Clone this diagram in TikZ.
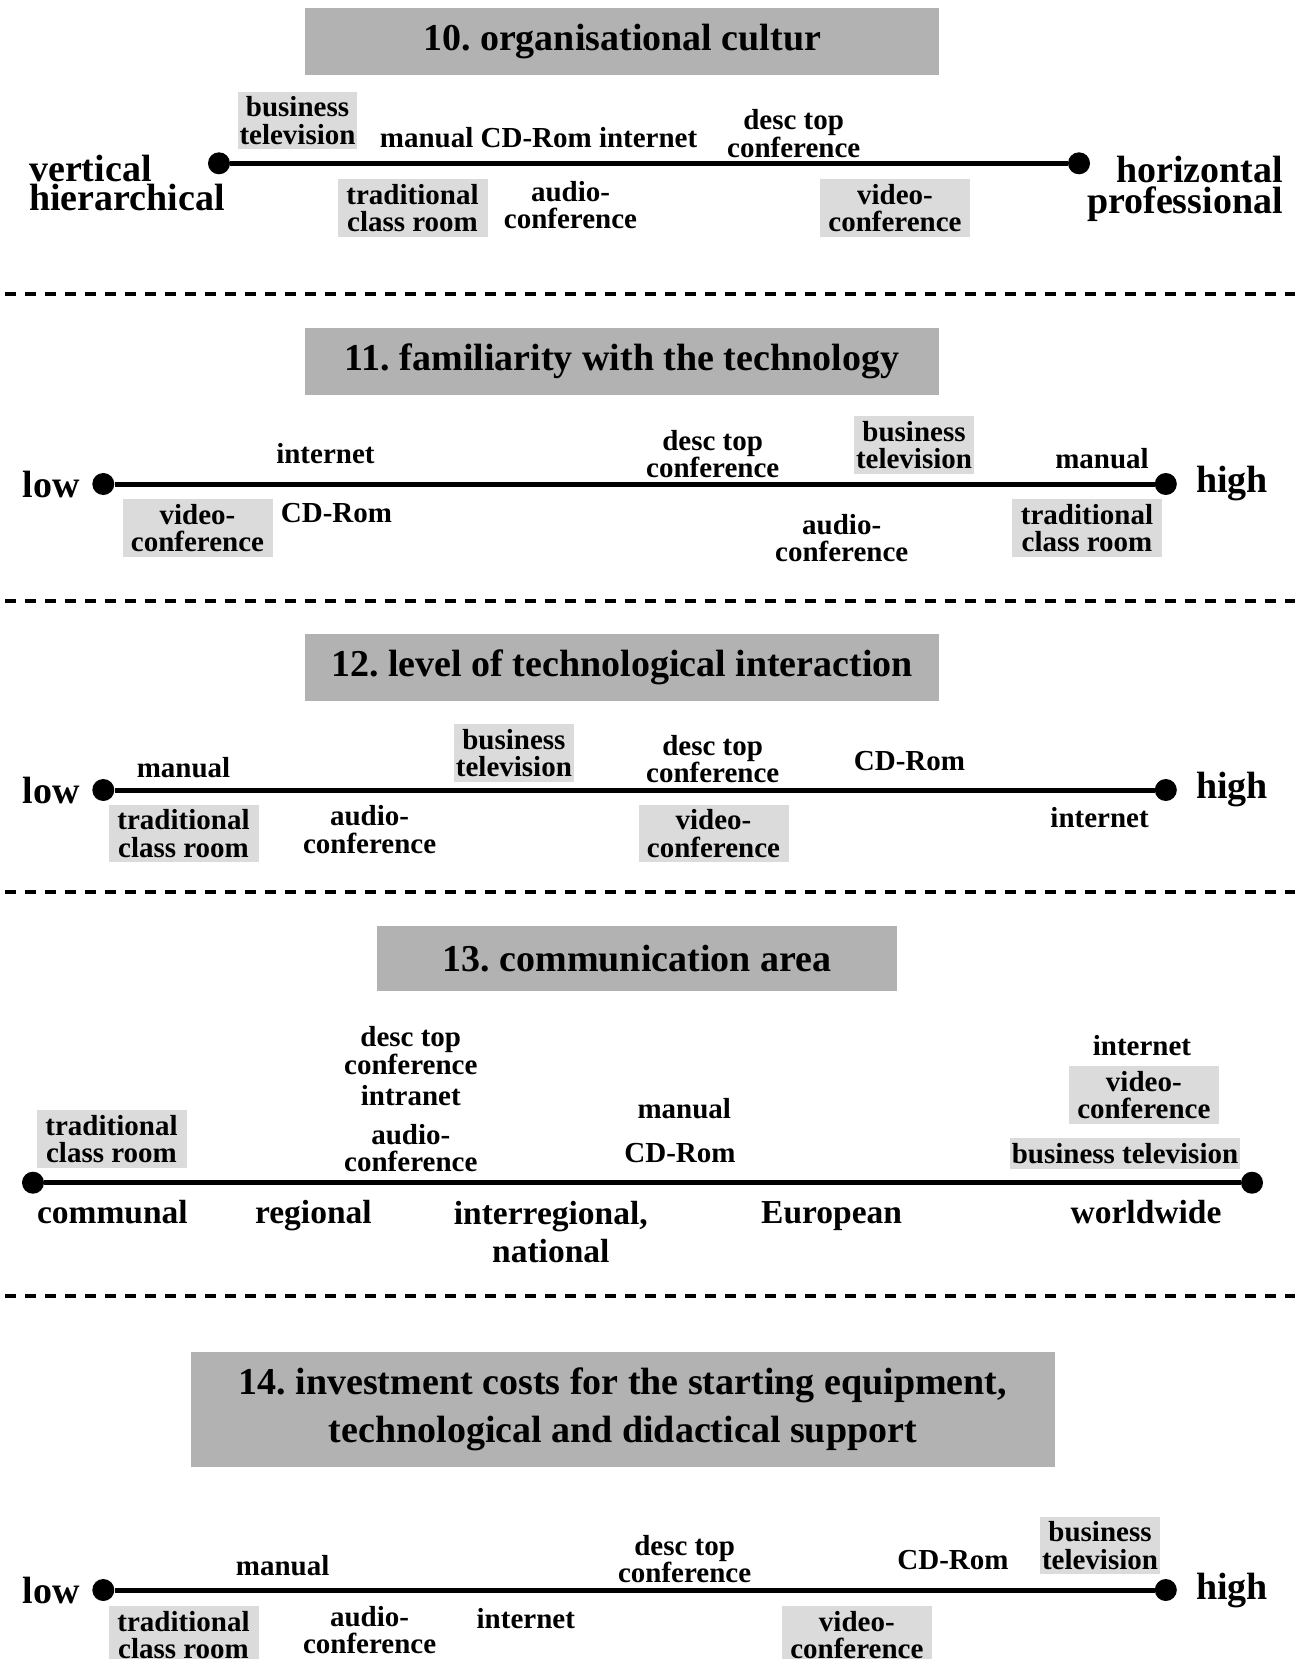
\documentclass[tikz,border=0pt]{standalone}
\usepackage{fontspec}
\setmainfont{Liberation Serif}
\usetikzlibrary{positioning}
\definecolor{titlegray}{gray}{0.70}
\definecolor{taggray}{gray}{0.86}
\newcommand\labelsize{\fontsize{29}{27.5}\selectfont}
\newcommand\headsize{\fontsize{38}{48.3}\selectfont}
\newcommand\polesize{\fontsize{38}{28.3}\selectfont}
\newcommand\areasize{\fontsize{33.5}{38.4}\selectfont}
\frenchspacing

\begin{document}
\begin{tikzpicture}[x=1pt, y=-1pt,
    headbox/.style={fill=titlegray, font=\bfseries\headsize, align=center, inner sep=0pt},
    lbl/.style={font=\bfseries\labelsize, align=center, inner sep=0pt},
    tagbox/.style={lbl, fill=taggray, inner xsep=2pt, inner ysep=5pt},
    enddot/.style={circle, fill=black, inner sep=0pt, minimum size=22pt},
    axisline/.style={line width=5pt},
    pole/.style={font=\bfseries\polesize, inner sep=0pt},
    area/.style={font=\bfseries\areasize, align=center, inner sep=0pt},
    sepline/.style={line width=3.3pt, dash pattern=on 10.7pt off 9.3pt}
  ]
  \useasboundingbox (0,0) rectangle (1295,1659);

  % 10. organisational cultur
  \node[headbox, minimum width=634pt, minimum height=66.7pt] (t10) at (622,41.3) {10. organisational cultur};
  \node[enddot] (lo10) at (219,163.3) {};
  \node[enddot] (hi10) at (1079,163.3) {};
  \node[pole, align=left, anchor=west] (vh10) at (29,183) {vertical\\hierarchical};
  \node[pole, align=right, anchor=east] (hp10) at (1283,189) {horizontal\\[2.7pt]professional};
  \node[tagbox] (bt10) at (297.5,120.5) {business\\television};
  \node[lbl] (mci10) at (538.6,138) {manual CD-Rom internet};
  \node[lbl] (dt10) at (793.7,133.7) {desc top\\conference};
  \node[tagbox, minimum width=150pt] (tr10) at (412.5,208.3) {traditional\\class room};
  \node[lbl] (ac10) at (570.5,205) {audio-\\conference};
  \node[tagbox, minimum width=150pt] (vc10) at (895,208.3) {video-\\conference};

  % 11. familiarity with the technology
  \node[headbox, minimum width=634pt, minimum height=66.7pt] (t11) at (622,361.3) {11. familiarity with the technology};
  \node[enddot] (lo11) at (103.3,484) {};
  \node[enddot] (hi11) at (1165.8,484) {};
  \node[pole, left=12pt of lo11] (low11) {low};
  \node[pole, right=19pt of hi11] (high11) {high};
  \node[lbl] (in11) at (325.4,453.3) {internet};
  \node[lbl] (dt11) at (712.7,454) {desc top\\conference};
  \node[tagbox] (bt11) at (914,445) {business\\television};
  \node[lbl] (ma11) at (1102,459) {manual};
  \node[tagbox, minimum width=150pt] (vc11) at (197.5,528.3) {video-\\conference};
  \node[lbl] (cd11) at (336.5,513.3) {CD-Rom};
  \node[lbl] (ac11) at (841.7,538.3) {audio-\\conference};
  \node[tagbox, minimum width=150pt] (tr11) at (1087,528.3) {traditional\\class room};

  % 12. level of technological interaction
  \node[headbox, minimum width=634pt, minimum height=66.7pt] (t12) at (622,667.3) {12. level of technological interaction};
  \node[enddot] (lo12) at (103.3,790) {};
  \node[enddot] (hi12) at (1165.8,790) {};
  \node[pole, left=12pt of lo12] (low12) {low};
  \node[pole, right=19pt of hi12] (high12) {high};
  \node[lbl] (ma12) at (183.5,767.5) {manual};
  \node[tagbox] (bt12) at (513.9,753.3) {business\\television};
  \node[lbl] (dt12) at (712.7,759) {desc top\\conference};
  \node[lbl] (cd12) at (909.5,761) {CD-Rom};
  \node[tagbox, minimum width=150pt] (tr12) at (183.5,833.5) {traditional\\class room};
  \node[lbl] (ac12) at (369.6,829.7) {audio-\\conference};
  \node[tagbox, minimum width=150pt] (vc12) at (713.5,833.5) {video-\\conference};
  \node[lbl] (in12) at (1099.6,818) {internet};

  % 13. communication area
  \node[headbox, minimum width=520pt, minimum height=64.7pt] (t13) at (637,958.3) {13. communication area};
  \node[enddot] (lo13) at (33,1182.7) {};
  \node[enddot] (hi13) at (1252,1182.7) {};
  \node[tagbox, minimum width=150pt] (tr13) at (111.5,1139.3) {traditional\\class room};
  \node[lbl] (dt13) at (410.8,1050.8) {desc top\\conference};
  \node[lbl] (it13) at (410.8,1095.5) {intranet};
  \node[lbl] (ac13) at (410.8,1148.3) {audio-\\conference};
  \node[lbl] (ma13) at (684.3,1108.3) {manual};
  \node[lbl] (cd13) at (680,1153.3) {CD-Rom};
  \node[lbl] (in13) at (1142,1046) {internet};
  \node[tagbox, minimum width=150pt] (vc13) at (1143.8,1095.2) {video-\\conference};
  \node[tagbox] (bt13) at (1125,1153.3) {business television};
  \node[area, anchor=base] (co13) at (112.4,1223.3) {communal};
  \node[area, anchor=base] (rg13) at (313.4,1223.3) {regional};
  \node[area, anchor=north] (ir13) at (550.8,1200.6) {interregional,\\national};
  \node[area, anchor=base] (eu13) at (831.6,1223.3) {European};
  \node[area, anchor=base] (ww13) at (1146,1223.3) {worldwide};

  % 14. investment costs
  \node[headbox, minimum width=863.6pt, minimum height=114.4pt] (t14) at (622.8,1409.5) {14. investment costs for the starting equipment,\\technological and didactical support};
  \node[enddot] (lo14) at (103.3,1590) {};
  \node[enddot] (hi14) at (1165.8,1590) {};
  \node[pole, left=12pt of lo14] (low14) {low};
  \node[pole, right=19pt of hi14] (high14) {high};
  \node[lbl] (ma14) at (282.7,1566) {manual};
  \node[lbl] (dt14) at (684.6,1559) {desc top\\conference};
  \node[lbl] (cd14) at (953,1560) {CD-Rom};
  \node[tagbox] (bt14) at (1100,1545.5) {business\\television};
  \node[tagbox, minimum width=150pt] (tr14) at (183.5,1635) {traditional\\class room};
  \node[lbl] (ac14) at (369.6,1630) {audio-\\conference};
  \node[lbl] (in14) at (525.8,1618.3) {internet};
  \node[tagbox, minimum width=150pt] (vc14) at (856.8,1635) {video-\\conference};

  % scales and separators
  \foreach \s in {10,...,14}
    \draw[axisline] (lo\s) -- (hi\s);
  \foreach \y in {294,601,892,1296}
    \draw[sepline] (5,\y) -- (1295,\y);
\end{tikzpicture}
\end{document}
